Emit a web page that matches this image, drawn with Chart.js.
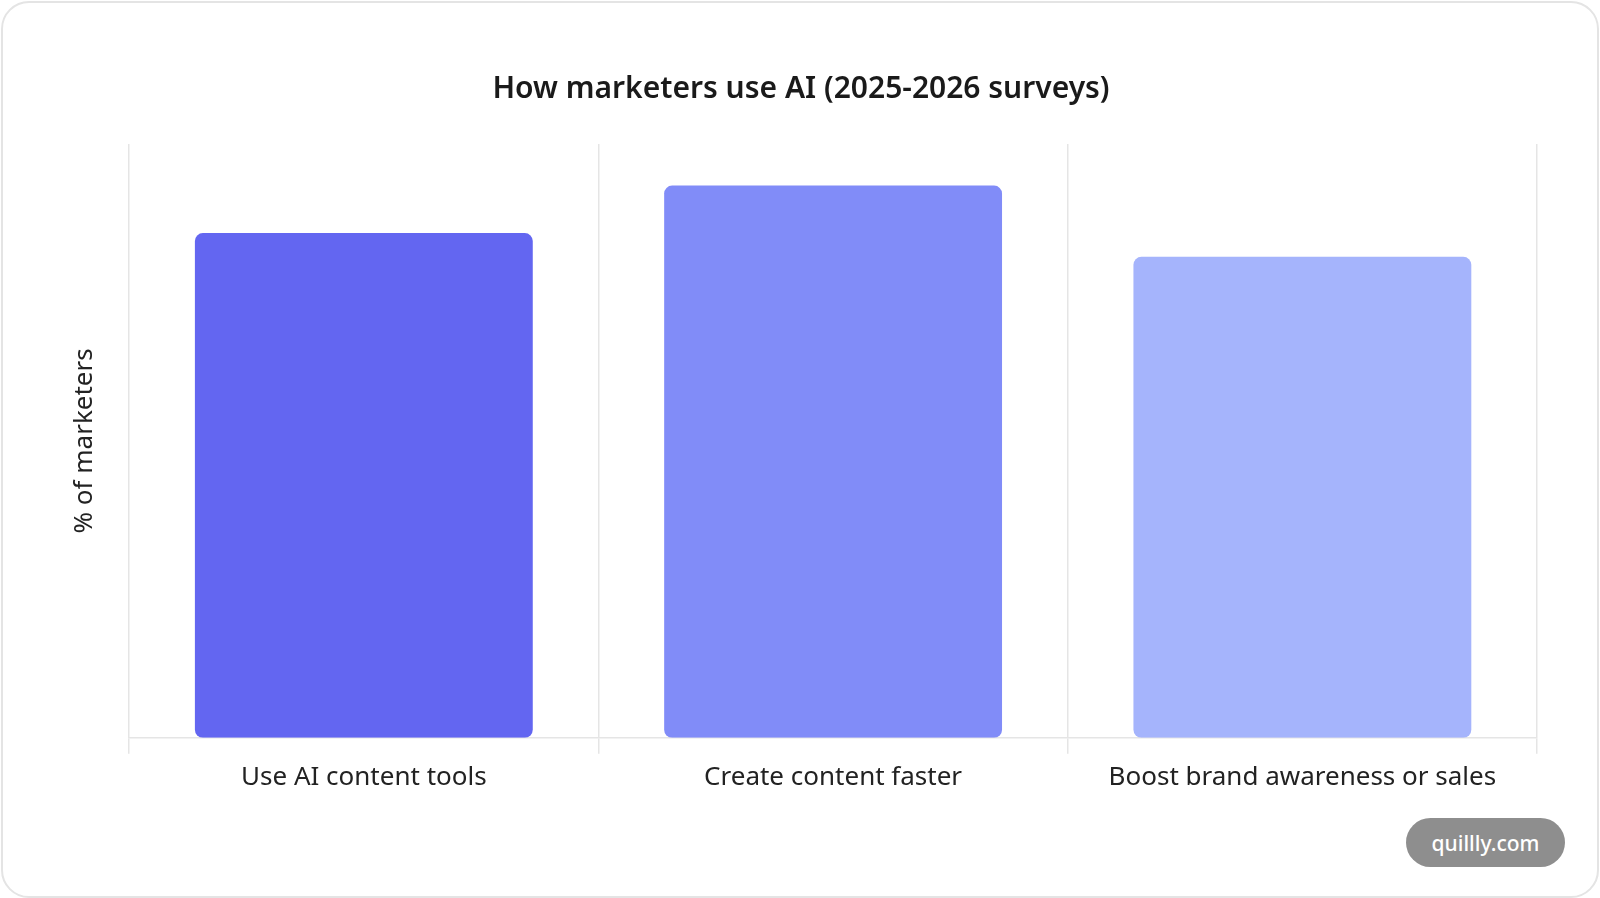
<!DOCTYPE html>
<html>
<head>
<meta charset="utf-8">
<script src="https://cdn.jsdelivr.net/npm/chart.js@4/dist/chart.umd.min.js"></script>
<style>
  html, body { margin: 0; padding: 0; background: #fff; width: 1600px; height: 898px; overflow: hidden; }
  .card { position: absolute; left: 1px; top: 1px; width: 1594px; height: 893px; border: 2px solid #e4e4e4; border-radius: 28px; background: #fff; }
  #chart { position: absolute; left: 0; top: 0; }
  .badge { position: absolute; left: 1406px; top: 818px; width: 159px; height: 49px; border-radius: 25px; background: #8e8e8e; color: #fff;
    font: 500 21px "Noto Sans", sans-serif; display: flex; align-items: center; justify-content: center; }
</style>
</head>
<body>
<div class="card"></div>
<canvas id="chart" width="1600" height="898"></canvas>
<div class="badge">quillly.com</div>
<script>
const categories = ['Use AI content tools', 'Create content faster', 'Boost brand awareness or sales'];
const shareOfMarketers = [85, 93, 81];
const barColors = ['#6366f1', '#818cf8', '#a5b4fc'];

const canvas = document.getElementById('chart');
canvas.style.width = '1600px';
canvas.style.height = '898px';

new Chart(canvas, {
  type: 'bar',
  data: {
    labels: categories,
    datasets: [{
      label: '% of marketers',
      data: shareOfMarketers,
      backgroundColor: barColors,
      borderRadius: 8,
      borderSkipped: false
    }]
  },
  options: {
    responsive: false,
    animation: false,
    devicePixelRatio: 1,
    layout: { padding: { top: 40, left: 65, right: 63, bottom: 97 } },
    plugins: {
      legend: { display: false },
      tooltip: { enabled: false },
      title: {
        display: true,
        text: 'How marketers use AI (2025-2026 surveys)',
        color: '#1a1a1a',
        font: { family: '"Noto Sans", sans-serif', size: 30, weight: '600' },
        padding: { top: 31, bottom: 37 }
      }
    },
    scales: {
      x: {
        grid: { color: '#e5e5e5', lineWidth: 1.5, tickLength: 16, offset: true },
        border: { color: '#e5e5e5', width: 1.5 },
        ticks: { color: '#222', padding: 8, font: { family: '"Noto Sans", sans-serif', size: 26 } }
      },
      y: {
        min: 0,
        max: 100,
        ticks: { display: false },
        grid: { display: false },
        border: { display: false },
        title: {
          display: true,
          text: '% of marketers',
          color: '#222',
          font: { family: '"Noto Sans", sans-serif', size: 26 },
          padding: { top: 4, bottom: 21 }
        }
      }
    }
  }
});
</script>
</body>
</html>
